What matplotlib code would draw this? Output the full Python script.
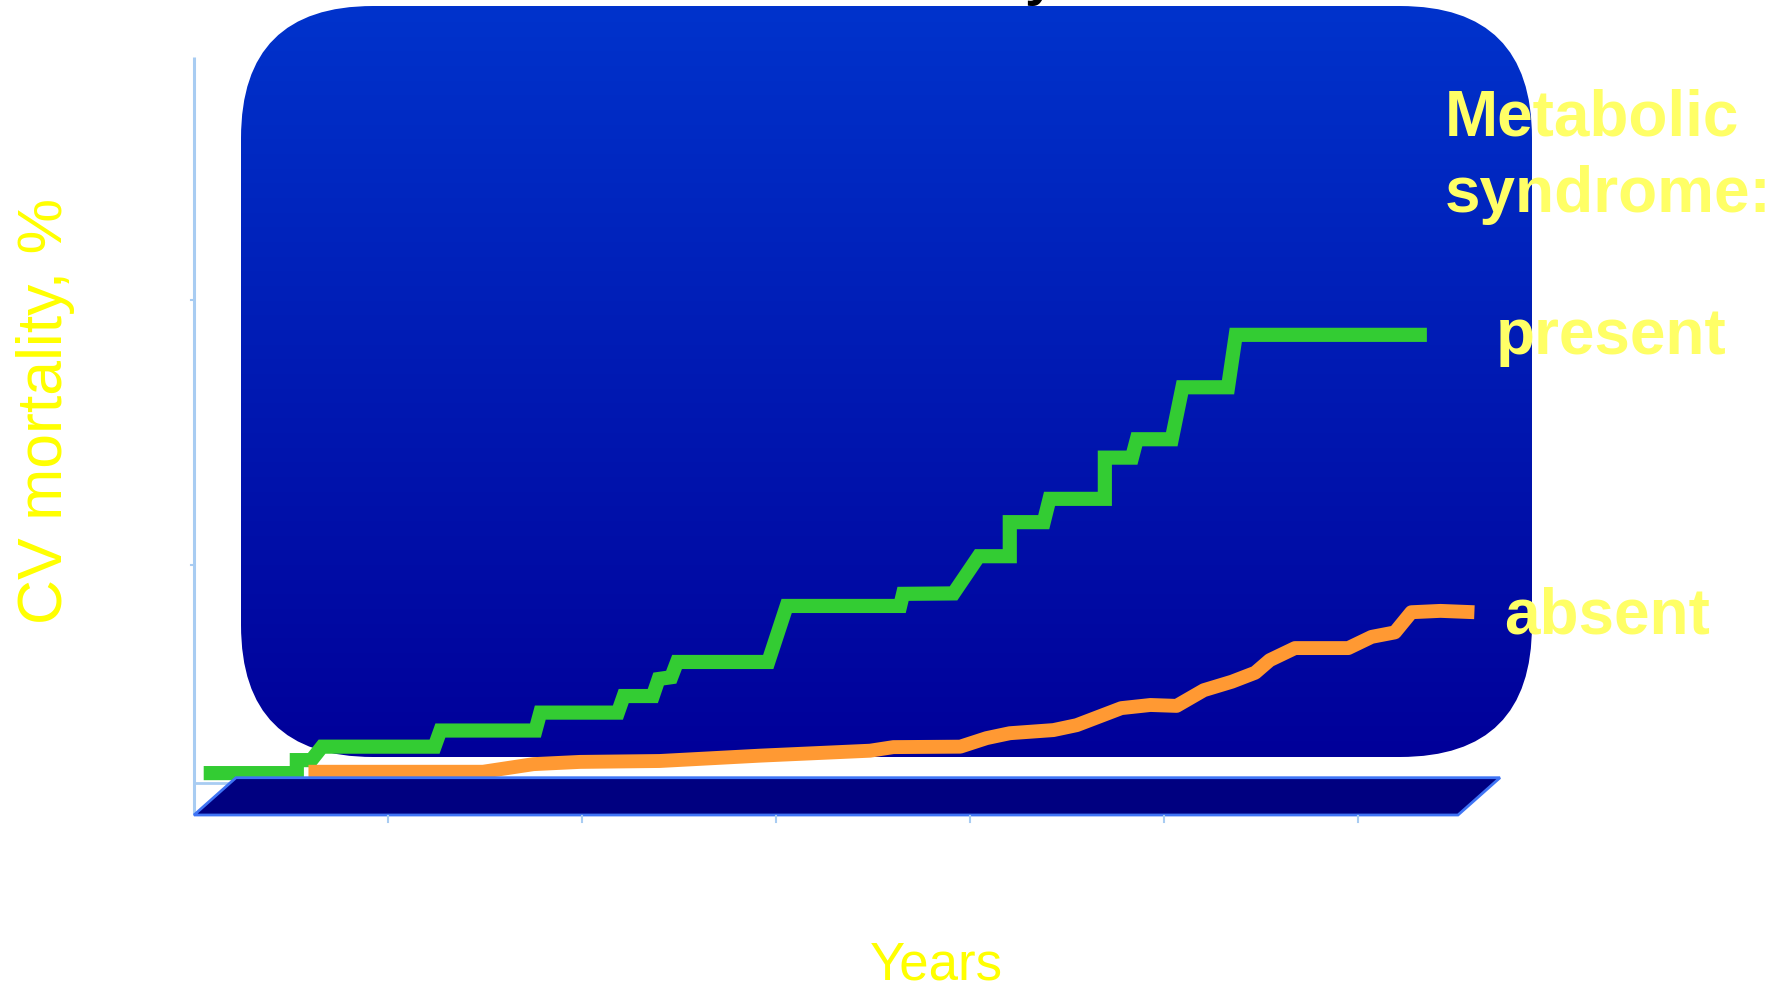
import numpy as np
import matplotlib
matplotlib.use("Agg")
import matplotlib.pyplot as plt
from matplotlib.patches import FancyBboxPatch, Polygon
from matplotlib.colors import LinearSegmentedColormap

# ---------------- data ----------------
years_present = [0.10, 1.06, 1.06, 1.21, 1.32, 2.48, 2.54, 3.52, 3.57, 4.37, 4.43, 4.73,
                 4.79, 4.92, 4.98, 5.92, 6.11, 7.28, 7.31, 7.83, 8.09, 8.41, 8.41, 8.76,
                 8.82, 9.39, 9.39, 9.67, 9.72, 10.08, 10.19, 10.66, 10.74, 12.71]
mort_present = [0.02, 0.02, 0.31, 0.31, 0.61, 0.61, 0.97, 0.97, 1.37, 1.37, 1.74, 1.74,
                2.12, 2.16, 2.50, 2.50, 3.75, 3.75, 4.02, 4.03, 4.86, 4.86, 5.62, 5.62,
                6.14, 6.14, 7.06, 7.06, 7.47, 7.47, 8.63, 8.63, 9.80, 9.80]

years_absent = [1.18, 2.98, 3.50, 3.98, 4.80, 5.84, 6.97, 7.21, 7.90, 8.17, 8.41, 8.86,
                9.10, 9.56, 9.86, 10.13, 10.41, 10.70, 10.94, 11.09, 11.35, 11.90, 12.14,
                12.38, 12.55, 12.85, 13.20]
mort_absent = [0.05, 0.05, 0.22, 0.27, 0.29, 0.41, 0.52, 0.60, 0.61, 0.80, 0.91, 0.98,
               1.09, 1.47, 1.54, 1.52, 1.87, 2.06, 2.26, 2.54, 2.81, 2.81, 3.06,
               3.16, 3.61, 3.64, 3.61]

x_ticks = [0, 2, 4, 6, 8, 10, 12]
series_labels = ["present", "absent"]
legend_title = ["Metabolic", "syndrome:"]
y_label = "CV mortality, %"
x_label = "Years"

# ---------------- figure ----------------
W, H = 1789, 985
fig = plt.figure(figsize=(W / 100, H / 100), dpi=100)
fig.patch.set_facecolor("white")
FONT = ["Liberation Sans", "DejaVu Sans"]

# background / decoration axes in pixel coordinates
bg = fig.add_axes([0, 0, 1, 1])
bg.set_xlim(0, W)
bg.set_ylim(H, 0)
bg.axis("off")

# rounded gradient box
bx0, by0, bx1, by1 = 241, 6, 1532, 757
grad = np.linspace(0, 1, 256).reshape(-1, 1)
cmap = LinearSegmentedColormap.from_list("bluegrad", ["#0033CC", "#000099"])
im = bg.imshow(grad, cmap=cmap, extent=[bx0, bx1, by1, by0], aspect="auto",
               interpolation="bilinear", zorder=1)
box = FancyBboxPatch((bx0, by0), bx1 - bx0, by1 - by0,
                     boxstyle="round,pad=0,rounding_size=132",
                     transform=bg.transData, facecolor="none", edgecolor="none")
bg.add_patch(box)
im.set_clip_path(box)

# partially visible title glyph at the very top
fig.text(1040 / W, 1 + 5.5 / H, "y", fontsize=40, fontweight="bold", color="black",
         ha="center", va="baseline", family=FONT)

# y axis line and small notches
axis_col = "#A8CCF2"
bg.plot([194, 194], [57, 815], color=axis_col, lw=2.2, solid_capstyle="butt", zorder=2)
bg.plot([194, 234], [783, 783], color=axis_col, lw=2.0, zorder=2)
for yy in (300, 565):
    bg.plot([191, 194], [yy, yy], color=axis_col, lw=1.5, zorder=2)

# ---------------- main data axes ----------------
px_per_year = 97.0
ax_left, ax_bottom_px, ax_top_px = 194, 774, 57
xmax, ymax = 13.5, 16.0
ax = fig.add_axes([ax_left / W, (H - ax_bottom_px) / H,
                   xmax * px_per_year / W, (ax_bottom_px - ax_top_px) / H])
ax.set_xlim(0, xmax)
ax.set_ylim(0, ymax)
ax.axis("off")
ax.patch.set_alpha(0)

ax.plot(years_present, mort_present, color="#33CC33", lw=10.2,
        solid_capstyle="butt", solid_joinstyle="miter", clip_on=False, zorder=3)
ax.plot(years_absent, mort_absent, color="#FF9933", lw=10.0,
        solid_capstyle="butt", solid_joinstyle="round", clip_on=False, zorder=3)

# ---------------- floor overlay ----------------
fl = fig.add_axes([0, 0, 1, 1])
fl.set_xlim(0, W)
fl.set_ylim(H, 0)
fl.axis("off")
fl.patch.set_alpha(0)
floor = Polygon([(194, 815), (236, 777.7), (1500, 777.7), (1458, 815)], closed=True,
                facecolor="#000080", edgecolor="#3F74F5", lw=2.0, zorder=4)
fl.add_patch(floor)
for t in x_ticks[1:]:
    xp = ax_left + t * px_per_year
    fl.plot([xp, xp], [816, 822], color=axis_col, lw=1.5, zorder=4)

# ---------------- texts ----------------
lab_col = "#FFFF66"
fl.text(1445, 135.5, legend_title[0], fontsize=46, fontweight="bold", color=lab_col,
        ha="left", va="baseline", family=FONT, zorder=6)
fl.text(1445, 212, legend_title[1], fontsize=46, fontweight="bold", color=lab_col,
        ha="left", va="baseline", family=FONT, zorder=6)
fl.text(1496, 354, series_labels[0], fontsize=46, fontweight="bold", color=lab_col,
        ha="left", va="baseline", family=FONT, zorder=6)
fl.text(1504, 634, series_labels[1], fontsize=46, fontweight="bold", color=lab_col,
        ha="left", va="baseline", family=FONT, zorder=6)

fl.text(46, 411, y_label, fontsize=45, color="#FFFF00", rotation=90,
        ha="center", va="center", family=FONT, zorder=6)
fl.text(936, 980, x_label, fontsize=38, color="#FFFF00",
        ha="center", va="baseline", family=FONT, zorder=6)

fig.savefig("out.png", dpi=100, facecolor="white")
